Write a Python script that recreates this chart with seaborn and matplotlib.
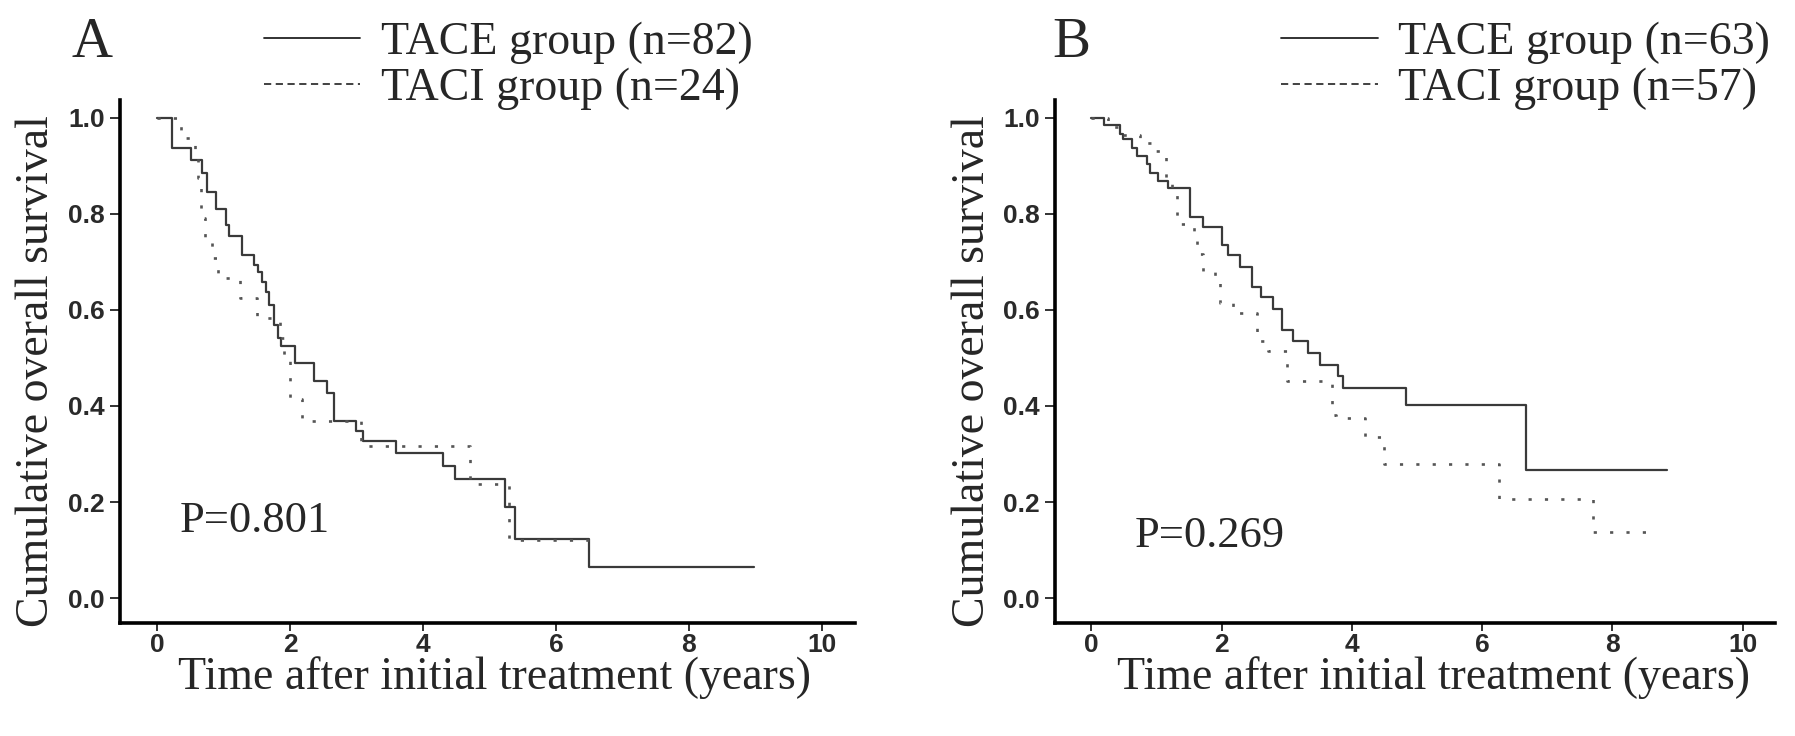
import matplotlib
matplotlib.use("Agg")
import matplotlib.pyplot as plt
import seaborn as sns
import pandas as pd
from matplotlib.lines import Line2D

# Panel A: Kaplan-Meier steps (time in years, survival after each step)
a_tace_t = [0, 0.22, 0.51, 0.68, 0.75, 0.88, 1.03, 1.08, 1.28, 1.45, 1.51, 1.58, 1.63,
            1.68, 1.76, 1.81, 1.86, 2.08, 2.36, 2.56, 2.66, 2.99, 3.09, 3.60, 4.30,
            4.48, 5.23, 5.38, 6.49, 8.98]
a_tace_s = [1.0, 0.938, 0.913, 0.886, 0.845, 0.81, 0.776, 0.755, 0.714, 0.693, 0.679, 0.658,
            0.638, 0.61, 0.569, 0.541, 0.524, 0.489, 0.451, 0.427, 0.368, 0.348, 0.327,
            0.303, 0.275, 0.248, 0.189, 0.124, 0.065, 0.065]
a_taci_t = [0, 0.35, 0.57, 0.62, 0.66, 0.72, 0.83, 0.92, 1.25, 1.50, 1.85, 1.90, 2.00,
            2.18, 3.07, 4.70, 5.30, 6.66]
a_taci_s = [1.0, 0.958, 0.917, 0.875, 0.792, 0.75, 0.708, 0.667, 0.625, 0.583, 0.542, 0.50,
            0.414, 0.368, 0.317, 0.238, 0.12, 0.12]

# Panel B
b_tace_t = [0, 0.19, 0.44, 0.49, 0.62, 0.70, 0.85, 0.90, 1.03, 1.18, 1.52, 1.72, 2.00,
            2.10, 2.28, 2.46, 2.61, 2.79, 2.92, 3.10, 3.33, 3.51, 3.79, 3.86, 4.83,
            6.67, 8.84]
b_tace_s = [1.0, 0.985, 0.966, 0.955, 0.938, 0.92, 0.903, 0.885, 0.868, 0.854, 0.794,
            0.773, 0.735, 0.714, 0.689, 0.647, 0.626, 0.601, 0.559, 0.535, 0.51, 0.486,
            0.462, 0.437, 0.402, 0.267, 0.267]
b_taci_t = [0, 0.25, 0.45, 0.75, 0.98, 1.15, 1.24, 1.31, 1.57, 1.62, 1.72, 1.90, 1.98,
            2.18, 2.54, 2.72, 3.00, 3.69, 3.76, 4.20, 4.50, 6.26, 7.70, 8.65]
b_taci_s = [1.0, 0.982, 0.965, 0.948, 0.93, 0.864, 0.843, 0.78, 0.759, 0.717, 0.682,
            0.657, 0.615, 0.594, 0.535, 0.514, 0.451, 0.381, 0.374, 0.336, 0.279, 0.207,
            0.138, 0.138]

panels = [
    ("A", a_tace_t, a_tace_s, a_taci_t, a_taci_s,
     ["TACE group (n=82)", "TACI group (n=24)"], "P=0.801"),
    ("B", b_tace_t, b_tace_s, b_taci_t, b_taci_s,
     ["TACE group (n=63)", "TACI group (n=57)"], "P=0.269"),
]

sns.set_style("white")
serif = ["Liberation Serif", "DejaVu Serif"]
sans = ["Liberation Sans", "DejaVu Sans"]

fig = plt.figure(figsize=(17.95, 7.36), dpi=100)
ax_pos = [[0.0669, 0.1535, 0.4094, 0.7105], [0.5877, 0.1535, 0.4012, 0.7105]]
leg_pos = [(0.129, 1.015), (0.696, 1.015)]
letter_pos = [(0.040, 0.977), (0.586, 0.977)]
p_pos = [(0.100, 0.277), (0.632, 0.257)]
xlab_x = [0.51, 0.526]

for i, (letter, t1, s1, t2, s2, labels, ptxt) in enumerate(panels):
    ax = fig.add_axes(ax_pos[i])
    d1 = pd.DataFrame({"t": t1, "s": s1})
    d2 = pd.DataFrame({"t": t2, "s": s2})
    sns.lineplot(data=d1, x="t", y="s", ax=ax, drawstyle="steps-post",
                 estimator=None, color="#3a3a3a", linewidth=1.6)
    sns.lineplot(data=d2, x="t", y="s", ax=ax, drawstyle="steps-post",
                 estimator=None, color="#555555", linewidth=1.9,
                 linestyle=(0, (1.2, 5.0)))
    ax.set_xlim(-0.56, 10.5)
    ax.set_ylim(-0.052, 1.037)
    ax.set_xticks([0, 2, 4, 6, 8, 10])
    ax.set_yticks([0.0, 0.2, 0.4, 0.6, 0.8, 1.0])
    ax.set_yticklabels(["0.0", "0.2", "0.4", "0.6", "0.8", "1.0"])
    for lab in ax.get_xticklabels() + ax.get_yticklabels():
        lab.set_family(sans)
        lab.set_fontsize(19)
        lab.set_weight("bold")
        lab.set_color("#2a2a2a")
    sns.despine(ax=ax)
    for side in ["left", "bottom"]:
        ax.spines[side].set_linewidth(2.6)
        ax.spines[side].set_color("black")
    ax.tick_params(direction="out", length=7, width=1.4, color="#333333",
                   left=True, bottom=True)
    ax.tick_params(axis="x", length=6, pad=1)
    ax.tick_params(axis="y", pad=4)
    ax.set_xlabel("Time after initial treatment (years)", family=serif, fontsize=33)
    ax.set_ylabel("Cumulative overall survival", family=serif, fontsize=33)
    ax.xaxis.set_label_coords(xlab_x[i], -0.064)
    ax.yaxis.set_label_coords(-0.084, 0.482)
    ax.text(p_pos[i][0], p_pos[i][1], ptxt, transform=fig.transFigure,
            family=serif, fontsize=32, va="baseline")
    fig.text(letter_pos[i][0], letter_pos[i][1], letter, family=serif, fontsize=41,
             va="top")
    handles = [Line2D([], [], color="#222222", linewidth=1.3),
               Line2D([], [], color="#333333", linewidth=1.3, linestyle=(0, (4, 2.5)))]
    fig.legend(handles, labels, loc="upper left", bbox_to_anchor=leg_pos[i],
               frameon=False, prop={"family": serif, "size": 33}, handlelength=2.1,
               handletextpad=0.45, labelspacing=0.08, borderpad=0.2)

fig.savefig("out.png", dpi=100)
